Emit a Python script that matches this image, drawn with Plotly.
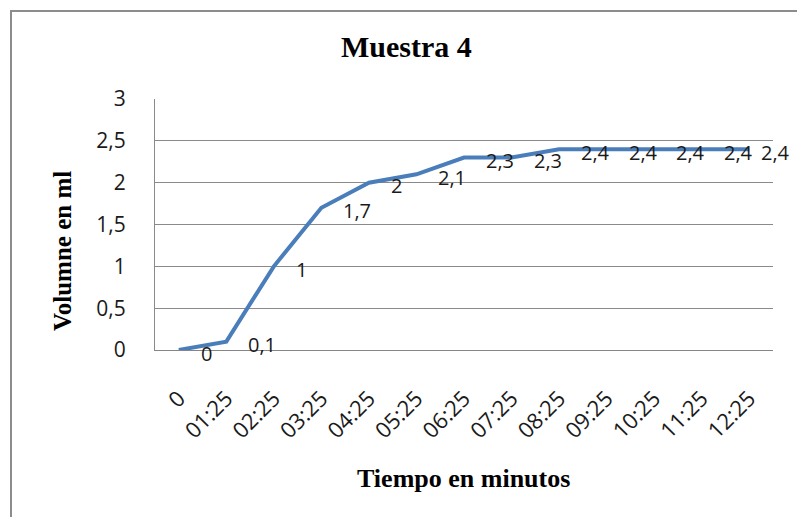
import plotly.graph_objects as go

categories = ["0", "01:25", "02:25", "03:25", "04:25", "05:25", "06:25",
              "07:25", "08:25", "09:25", "10:25", "11:25", "12:25"]
volumes = [0, 0.1, 1, 1.7, 2, 2.1, 2.3, 2.3, 2.4, 2.4, 2.4, 2.4, 2.4]
labels = [str(v).replace(".", ",") for v in volumes]

# label horizontal offsets in px (last one is pulled in to stay inside the chart)
label_dx = [20] * 12 + [10]

W, H = 797, 517
L, R, T, B = 155, 24, 99, 167
pw, ph = W - L - R, H - T - B

SANS = "Open Sans, Liberation Sans, sans-serif"
SERIF = "Liberation Serif, Times New Roman, serif"

fig = go.Figure()
fig.add_trace(go.Scatter(
    x=categories, y=volumes, mode="lines",
    line=dict(color="#4A7EBB", width=4),
    showlegend=False, hoverinfo="x+y",
))

for c, v, t, dx in zip(categories, volumes, labels, label_dx):
    fig.add_annotation(x=c, y=v, text=t, showarrow=False,
                       xanchor="left", yanchor="middle",
                       xshift=dx, yshift=-3,
                       font=dict(family=SANS, size=20, color="#1a1a1a"))

fig.update_layout(
    width=W, height=H,
    margin=dict(l=L, r=R, t=T, b=B, autoexpand=False),
    paper_bgcolor="white", plot_bgcolor="white",
    separators=", ",
    xaxis=dict(
        type="category", range=[-0.5, 12.5], automargin=False,
        tickangle=-45, showgrid=False,
        showline=True, linecolor="#868686", linewidth=1,
        ticks="", ticklabelstandoff=26,
        tickfont=dict(family=SANS, size=22, color="#1a1a1a"),
    ),
    yaxis=dict(
        range=[0, 3], dtick=0.5, tickformat=",.1~f", automargin=False,
        showgrid=True, gridcolor="#8a8a8a", gridwidth=1,
        showline=True, linecolor="#8a8a8a", linewidth=1,
        zeroline=False,
        ticks="", ticklabelstandoff=24,
        tickfont=dict(family=SANS, size=21, color="#1a1a1a"),
    ),
)

# titles
fig.add_annotation(xref="paper", yref="paper", x=(406 - L) / pw, y=1 + (T - 47) / ph,
                   text="<b>Muestra 4</b>", showarrow=False,
                   xanchor="center", yanchor="middle",
                   font=dict(family=SERIF, size=30, color="black"))
fig.add_annotation(xref="paper", yref="paper", x=(463 - L) / pw, y=-(478 - (T + ph)) / ph,
                   text="<b>Tiempo en minutos</b>", showarrow=False,
                   xanchor="center", yanchor="middle",
                   font=dict(family=SERIF, size=26, color="black"))
fig.add_annotation(xref="paper", yref="paper", x=(62 - L) / pw, y=1 - (251 - T) / ph,
                   text="<b>Volumne en ml</b>", showarrow=False, textangle=-90,
                   xanchor="center", yanchor="middle",
                   font=dict(family=SERIF, size=25, color="black"))

# outer chart frame
fig.add_shape(type="rect", xref="paper", yref="paper",
              x0=(11 - L) / pw, x1=(W + 20 - L) / pw,
              y0=1 - (H + 20 - T) / ph, y1=1 + (T - 11) / ph,
              line=dict(color="#8c8c8c", width=2), fillcolor="rgba(0,0,0,0)",
              layer="below")

fig.write_html("out.html", config={"displayModeBar": False},
               post_script="document.body.style.margin='0';")
